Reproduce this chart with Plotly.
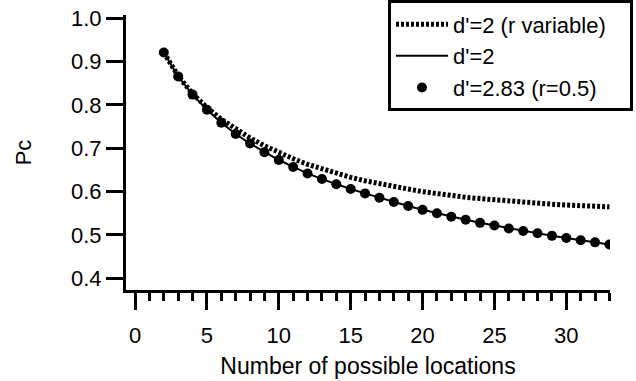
import plotly.graph_objects as go

# Number of possible locations
n_locations = list(range(2, 34))

# d'=2 (r variable) -- dotted curve
pc_r_variable = [0.921, 0.867, 0.826, 0.794, 0.767, 0.744, 0.724, 0.706,
                 0.690, 0.676, 0.663, 0.652, 0.642, 0.633, 0.625, 0.618,
                 0.612, 0.606, 0.600, 0.595, 0.591, 0.587, 0.584, 0.581,
                 0.578, 0.576, 0.573, 0.571, 0.569, 0.568, 0.566, 0.565]

# d'=2 -- solid curve
pc_d2 = [0.921, 0.866, 0.824, 0.789, 0.759, 0.733, 0.711, 0.691,
         0.673, 0.657, 0.642, 0.629, 0.617, 0.606, 0.596, 0.586,
         0.576, 0.567, 0.558, 0.550, 0.542, 0.535, 0.528, 0.522,
         0.515, 0.509, 0.504, 0.498, 0.493, 0.488, 0.483, 0.478]

# d'=2.83 (r=0.5) -- dots
pc_d283 = [0.921, 0.866, 0.824, 0.789, 0.759, 0.733, 0.711, 0.691,
           0.673, 0.657, 0.642, 0.629, 0.617, 0.606, 0.596, 0.586,
           0.576, 0.567, 0.558, 0.550, 0.542, 0.535, 0.528, 0.522,
           0.515, 0.509, 0.504, 0.498, 0.493, 0.488, 0.483, 0.478]

series_names = ["d'=2 (r variable)\u00a0\u00a0\u00a0", "d'=2", "d'=2.83 (r=0.5)"]

y_ticks = [0.4, 0.5, 0.6, 0.7, 0.8, 0.9, 1.0]
y_tick_text = ["0.4", "0.5", "0.6", "0.7", "0.8", "0.9", "1.0"]
x_ticks = [0, 5, 10, 15, 20, 25, 30]

FONT = "Liberation Sans, Arial, Helvetica, sans-serif"
FS = 22

fig = go.Figure()
fig.add_trace(go.Scatter(
    x=n_locations, y=pc_r_variable, mode="lines", name=series_names[0],
    line=dict(color="black", width=5, dash="3px,2px")))
fig.add_trace(go.Scatter(
    x=n_locations, y=pc_d2, mode="lines", name=series_names[1],
    line=dict(color="black", width=2)))
fig.add_trace(go.Scatter(
    x=n_locations, y=pc_d283, mode="markers", name=series_names[2],
    marker=dict(color="black", size=10)))

fig.update_layout(
    width=636, height=381,
    margin=dict(l=126, r=26, t=15, b=91, autoexpand=False),
    paper_bgcolor="white", plot_bgcolor="white",
    font=dict(family=FONT, size=FS, color="black"),
    showlegend=True,
    legend=dict(
        x=1.0475, y=1.053, xanchor="right", yanchor="top",
        bordercolor="black", borderwidth=3, bgcolor="white",
        font=dict(family=FONT, size=FS, color="black"),
        itemwidth=52, tracegroupgap=0,
    ),
)

fig.update_xaxes(
    range=[-0.63, 33.04], showgrid=False, zeroline=False,
    showline=True, linecolor="black", linewidth=3,
    ticks="outside", ticklen=17, tickwidth=3, tickcolor="black",
    tickvals=x_ticks, tickfont=dict(family=FONT, size=FS),
    ticklabelstandoff=7,
    minor=dict(dtick=1, tick0=0, ticks="outside", ticklen=8, tickwidth=3,
               tickcolor="black", showgrid=False),
    title=dict(text="Number of possible locations", font=dict(family=FONT, size=23),
               standoff=11),
)
fig.update_yaxes(
    range=[0.373, 1.0077], showgrid=False, zeroline=False,
    showline=True, linecolor="black", linewidth=3,
    ticks="outside", ticklen=17, tickwidth=3, tickcolor="black",
    tickvals=y_ticks, ticktext=y_tick_text, tickfont=dict(family=FONT, size=FS),
    title=dict(text="Pc", font=dict(family=FONT, size=FS), standoff=34),
)

fig.write_html("out.html")
